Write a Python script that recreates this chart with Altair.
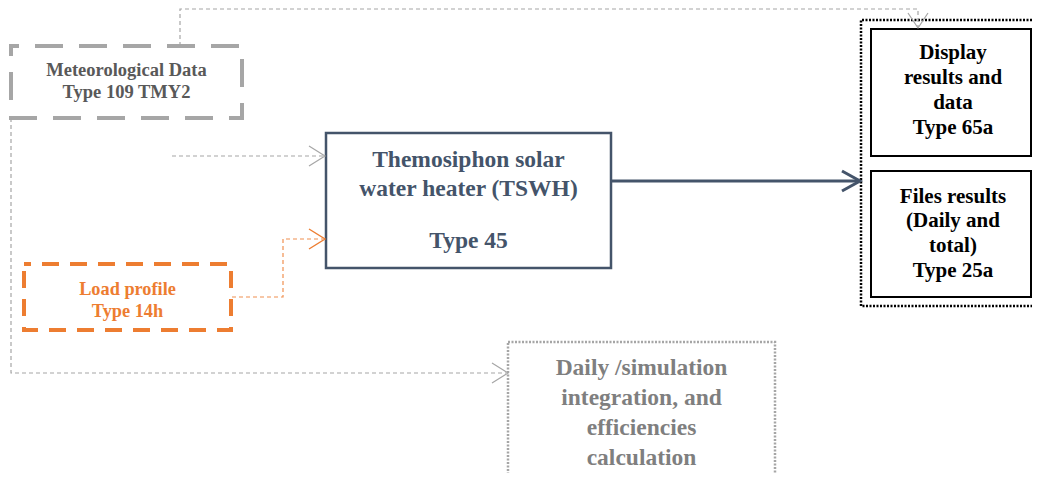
import altair as alt
import pandas as pd

# ---------------- data (page-pixel layout of the diagram) ----------------
box_names = ["met", "tswh", "load", "display", "files", "daily"]
box_x0 = [11, 326, 24, 871, 871, 508]
box_x1 = [242, 611, 231, 1035, 1035, 775]
box_y0 = [46, 133, 264, 29, 171, 342]
box_y1 = [118, 268, 330, 156, 297, 500]

# outer dotted frame (its right side lies outside the picture)
outer_x = [1040, 861, 861, 1040]
outer_y = [20, 20, 306, 306]

text_lines = ["Meteorological Data", "Type 109 TMY2",
              "Themosiphon solar", "water heater (TSWH)", "Type 45",
              "Display", "results and", "data", "Type 65a",
              "Files results", "(Daily and", "total)", "Type 25a",
              "Load profile", "Type 14h",
              "Daily /simulation", "integration, and", "efficiencies", "calculation"]
text_box = ["met", "met", "tswh", "tswh", "tswh",
            "display", "display", "display", "display",
            "files", "files", "files", "files",
            "load", "load", "daily", "daily", "daily", "daily"]
text_base = [76, 98, 167, 196, 248, 59, 84, 109, 134, 203, 227, 252, 277,
             295, 317, 375, 405, 435, 465]

gray_path = ["top"] * 4 + ["mid"] * 2 + ["left"] * 3
gray_x = [180, 180, 918, 918, 172, 323, 11, 11, 506]
gray_y = [46, 9, 9, 27, 156, 156, 118, 373, 373]

orange_x = [232, 283, 283, 323]
orange_y = [297, 297, 239, 239]

main_x = [611, 858]
main_y = [181, 181]

gray_chev_id = ["top"] * 3 + ["mid"] * 3 + ["left"] * 3
gray_chev_x = [908, 918, 928, 309, 325, 309, 492, 508, 492]
gray_chev_y = [13, 28, 13, 146, 156, 166, 363, 373, 383]

orange_chev_x = [309, 325, 309]
orange_chev_y = [229, 239, 249]

main_chev_x = [842, 860, 842]
main_chev_y = [171, 181, 191]

# ---------------- styles ----------------
GRAY = "#a6a6a6"
SLATE = "#44546a"
ORANGE = "#ed7d31"
font_size = {"met": 18.5, "tswh": 23.5, "display": 21, "files": 21,
             "load": 18.3, "daily": 23.5}
font_color = {"met": "#595959", "tswh": SLATE, "display": "#000000",
              "files": "#000000", "load": ORANGE, "daily": "#7f7f7f"}

boxes = pd.DataFrame({"name": box_names, "x0": box_x0, "x1": box_x1,
                      "y0": box_y0, "y1": box_y1})
boxes["cx"] = (boxes.x0 + boxes.x1) / 2
centers = dict(zip(boxes.name, boxes.cx))

texts = pd.DataFrame({"t": text_lines, "box": text_box, "y": text_base})
texts["x"] = texts.box.map(centers)
texts["fs"] = texts.box.map(font_size)
texts["col"] = texts.box.map(font_color)

# 1:1 mapping for nearly all of the width, the last few pixels squeezed to fit the page
xs = alt.Scale(domain=[8, 1030, 1040], range=[0, 1022, 1024], nice=False, zero=False)
ys = alt.Scale(domain=[8, 473], reverse=True, nice=False, zero=False)


def X(f="x"):
    return alt.X(f + ":Q", scale=xs, axis=None)


def Y(f="y"):
    return alt.Y(f + ":Q", scale=ys, axis=None)


def box_layer(names, **kw):
    d = boxes[boxes.name.isin(names)]
    return alt.Chart(d).mark_rect(fillOpacity=0, **kw).encode(
        x=X("x0"), x2="x1:Q", y=Y("y0"), y2="y1:Q")


def line_layer(df, **kw):
    return alt.Chart(df).mark_line(strokeCap="butt", strokeJoin="miter", **kw).encode(
        x=X(), y=Y(), detail="id:N", order="o:Q")


def path_df(ids, x, y):
    return pd.DataFrame({"id": ids, "x": x, "y": y, "o": list(range(len(x)))})


layers = [
    box_layer(["met"], stroke=GRAY, strokeWidth=4, strokeDash=[28, 16], strokeDashOffset=20),
    box_layer(["load"], stroke=ORANGE, strokeWidth=4, strokeDash=[17, 11], strokeDashOffset=10),
    box_layer(["tswh"], stroke=SLATE, strokeWidth=2.5),
    line_layer(path_df(["outer"] * 4, outer_x, outer_y), stroke="#000000", strokeWidth=2.5,
               strokeDash=[2, 1.5]),
    box_layer(["display", "files"], stroke="#000000", strokeWidth=2),
    box_layer(["daily"], stroke=GRAY, strokeWidth=2.5, strokeDash=[2, 1.5]),
    line_layer(path_df(gray_path, gray_x, gray_y), stroke=GRAY, strokeWidth=1.2, strokeDash=[4, 3]),
    line_layer(path_df(["o"] * 4, orange_x, orange_y), stroke=ORANGE, strokeWidth=1.2,
               strokeDash=[4, 3], opacity=0.85),
    line_layer(path_df(["m"] * 2, main_x, main_y), stroke=SLATE, strokeWidth=3),
    line_layer(path_df(gray_chev_id, gray_chev_x, gray_chev_y), stroke=GRAY, strokeWidth=1.2),
    line_layer(path_df(["oc"] * 3, orange_chev_x, orange_chev_y), stroke=ORANGE, strokeWidth=1.4),
    line_layer(path_df(["mc"] * 3, main_chev_x, main_chev_y), stroke=SLATE, strokeWidth=3),
    alt.Chart(texts).mark_text(font="Liberation Serif", fontWeight="bold",
                               baseline="alphabetic", align="center").encode(
        x=X(), y=Y(), text="t:N",
        size=alt.Size("fs:Q", scale=None),
        color=alt.Color("col:N", scale=None)),
]

chart = alt.layer(*layers).properties(
    width=1024, height=465, padding=0, autosize=alt.AutoSizeParams(type="none"),
    background="white",
).configure_view(stroke=None)

chart.save("out.html", embed_options={"renderer": "svg", "actions": False})
